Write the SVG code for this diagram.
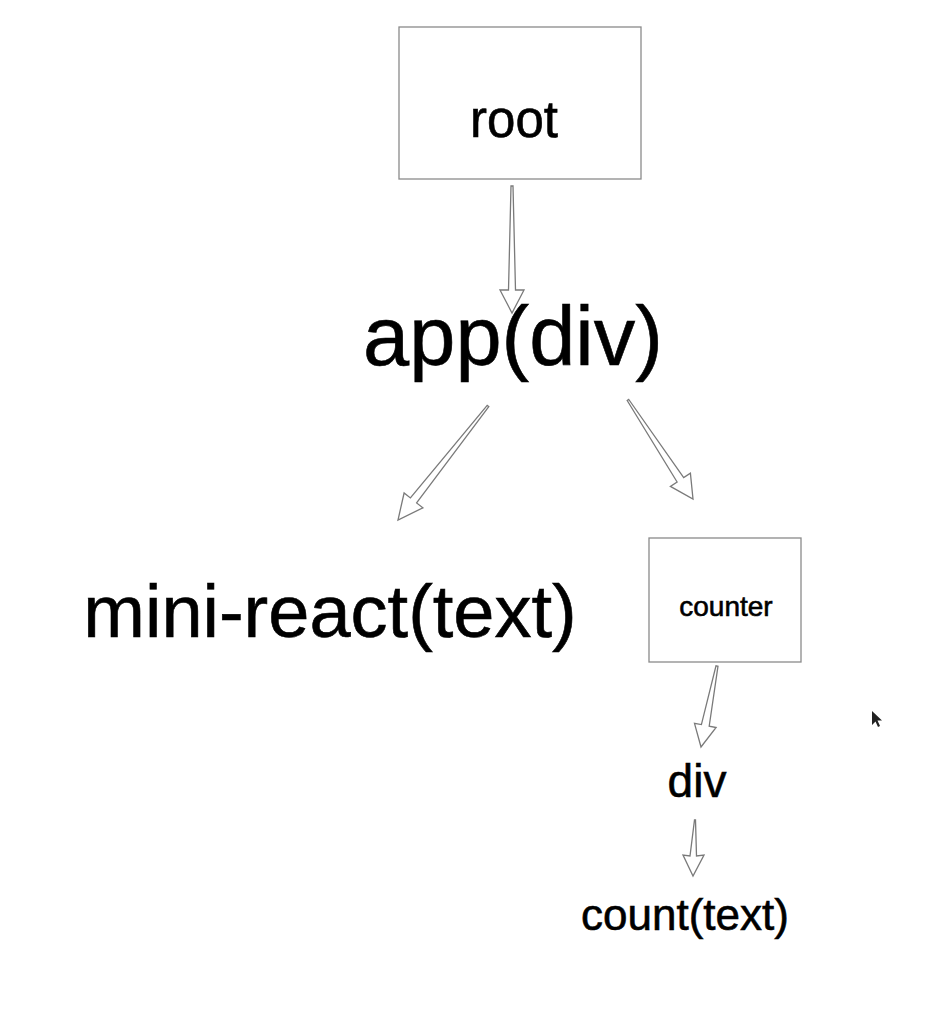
<svg xmlns="http://www.w3.org/2000/svg" width="946" height="1028" viewBox="0 0 946 1028">
<style>
.box{fill:#fff;stroke:#8a8a8a;stroke-width:1.3}
.lbl{font-family:"Liberation Sans",Arial,Helvetica,sans-serif;fill:#000;stroke:#000;stroke-width:0.6;text-anchor:middle}
.arr{fill:#fff;stroke:#7a7a7a;stroke-width:1.3;stroke-linejoin:miter}
</style>
<rect width="946" height="1028" fill="#fff"/>
<g id="connectors">
<polygon class="arr" points="513,186 515.5,290 524,290 512,313 500,290 508.5,290 511,186"/>
<polygon class="arr" points="488.8,406.6 416.6,502.9 422.9,507.8 398,520 404.1,493.0 410.4,497.9 487.2,405.4"/>
<polygon class="arr" points="628.8,399.5 683.7,477.6 690.4,473.2 693,499 670.4,486.4 677.1,482.0 627.2,400.5"/>
<polygon class="arr" points="718,666.2 709.2,726.2 716.1,727.5 701,747 694.5,723.3 701.4,724.6 716,665.8"/>
<polygon class="arr" points="695.5,820 696.5,856 704,855 693,876 683,855 690,856 694.5,820"/>
</g>
<g id="root">
<rect class="box" x="399" y="27" width="242" height="152"/>
<text class="lbl" x="514" y="137" font-size="51">root</text>
</g>
<g id="app">
<text class="lbl" x="513" y="365" font-size="83">app(div)</text>
</g>
<g id="mini-react">
<text class="lbl" x="330" y="637" font-size="74">mini-react(text)</text>
</g>
<g id="counter">
<rect class="box" x="649" y="538" width="152" height="124"/>
<text class="lbl" x="726" y="616" font-size="28">counter</text>
</g>
<g id="div">
<text class="lbl" x="697" y="797" font-size="46">div</text>
</g>
<g id="count">
<text class="lbl" x="685" y="930" font-size="44">count(text)</text>
</g>
<polygon points="872,711 872,725 875.5,721.5 878,727 880,726 877.5,720.5 882,720.5" fill="#222"/>
</svg>
